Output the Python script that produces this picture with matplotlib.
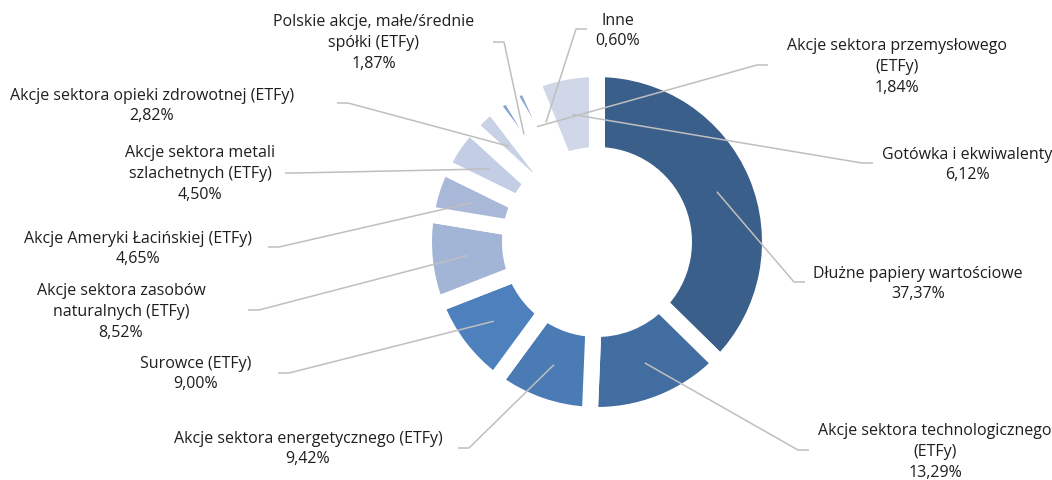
import numpy as np
import matplotlib
matplotlib.use('Agg')
import matplotlib.pyplot as plt

plt.rcParams['font.family'] = ['Open Sans', 'DejaVu Sans']

names = [
    'Dłużne papiery wartościowe',
    'Akcje sektora technologicznego\n(ETFy)',
    'Akcje sektora energetycznego (ETFy)',
    'Surowce (ETFy)',
    'Akcje sektora zasobów\nnaturalnych (ETFy)',
    'Akcje Ameryki Łacińskiej (ETFy)',
    'Akcje sektora metali\nszlachetnych (ETFy)',
    'Akcje sektora opieki zdrowotnej (ETFy)',
    'Polskie akcje, małe/średnie\nspółki (ETFy)',
    'Akcje sektora przemysłowego\n(ETFy)',
    'Inne',
    'Gotówka i ekwiwalenty',
]
shares = [37.37, 13.29, 9.42, 9.00, 8.52, 4.65, 4.50, 2.82, 1.87, 1.84, 0.60, 6.12]
colors = ['#3A5F8B', '#426DA0', '#4A7BB5', '#4D80BC', '#A3B5D6', '#A9B8D9',
          '#C3CDE3', '#C8D1E6', '#8CA6D1', '#8CA6D1', '#B8C6E0', '#CFD7E8']

# layout, in pixels measured from the top left of the picture
W, H = 1052, 480
cx, cy = 597, 242
text_pos = [(918, 284), (935, 452), (308, 449), (196, 374), (121, 312), (138, 249),
            (200, 174), (152, 106), (374, 43), (897, 67), (618, 31), (967, 165)]
elbow_pos = [(805, 282), (809, 450), (458, 448), (278, 373), (248, 310), (268, 247),
             (285, 173), (337, 103), (493, 42), (768, 65), (587, 29), (873, 163)]

fig = plt.figure(figsize=(W / 100, H / 100), dpi=100)
ax = fig.add_axes([0, 0, 1, 1])

gap = 16  # px between slices
wedges, _ = ax.pie(shares, colors=colors, radius=165 + gap / 2, center=(cx, H - cy),
                   startangle=90, counterclock=False,
                   wedgeprops=dict(width=70 + gap, edgecolor='white',
                                   linewidth=gap * 72 / 100, joinstyle='round'))

for w, name, v, (tx, ty), (ex, ey) in zip(wedges, names, shares, text_pos, elbow_pos):
    mid = np.deg2rad((w.theta1 + w.theta2) / 2)
    r = w.r - w.width / 2
    px = w.center[0] + r * np.cos(mid)
    py = w.center[1] + r * np.sin(mid)
    d = 1 if px > ex else -1
    ax.plot([ex, ex + 11 * d, px], [H - ey, H - ey, py], color='#BFBFBF', lw=1.1,
            zorder=5, solid_capstyle='butt')
    label = name + '\n' + f'{v:.2f}'.replace('.', ',') + '%'
    ax.text(tx, H - ty, label, ha='center', va='center', fontsize=11.5,
            color='#1E1E1E', linespacing=1.38, zorder=6)

ax.set_xlim(0, W)
ax.set_ylim(0, H)
ax.axis('off')

fig.savefig('out.png', dpi=100)
